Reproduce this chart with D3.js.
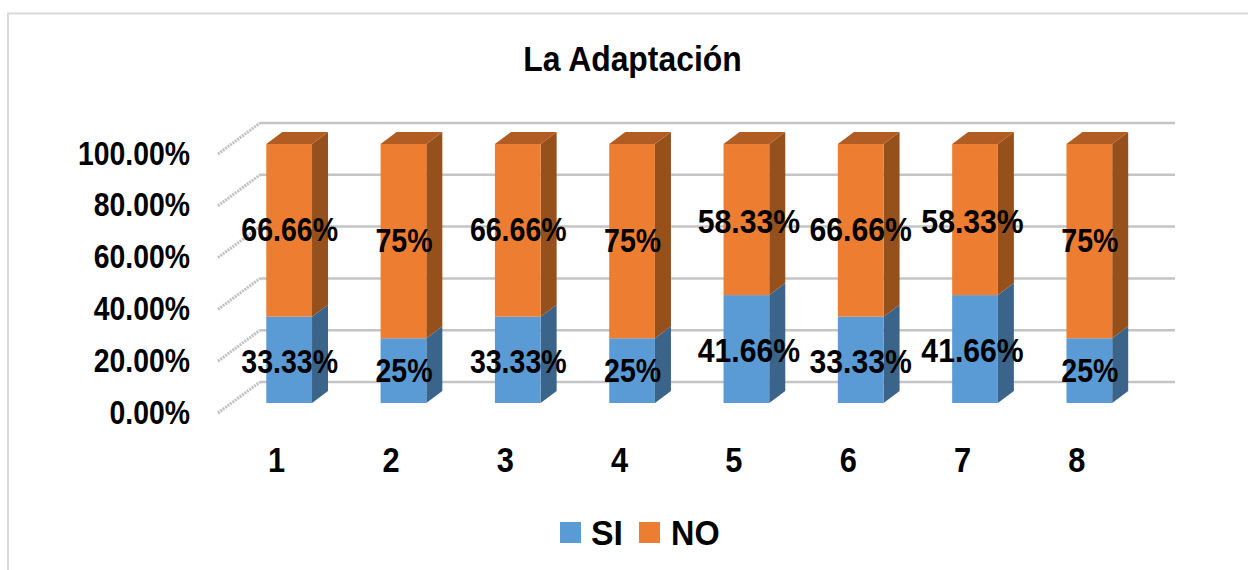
<!DOCTYPE html>
<html><head><meta charset="utf-8">
<script src="https://cdn.jsdelivr.net/npm/d3@7/dist/d3.min.js"></script>
<style>html,body{margin:0;background:#fff;overflow:hidden}svg{display:block}text{font-family:"Liberation Sans",Arial,sans-serif;font-weight:bold;fill:#000}</style>
</head><body><svg id="c" width="1248" height="570"></svg>
<script>
const categories=["1","2","3","4","5","6","7","8"];
const siValues=[33.33,25,33.33,25,41.66,33.33,41.66,25];
const noValues=[66.66,75,66.66,75,58.33,66.66,58.33,75];
const siLabels=["33.33%","25%","33.33%","25%","41.66%","33.33%","41.66%","25%"];
const noLabels=["66.66%","75%","66.66%","75%","58.33%","66.66%","58.33%","75%"];
const yTicks=[0,20,40,60,80,100];
const seriesNames=["SI","NO"];
const colors={SI:"#5b9bd5",NO:"#ed7d31"};
const sideColors={SI:"#3b648a",NO:"#96501c"};
const topColors={SI:"#4a7eae",NO:"#b05c22"};

const svg=d3.select("#c");
const y=d3.scaleLinear().domain([0,100]).range([403,144]);
const x=d3.scaleBand().domain(categories).range([232,1146.5]).paddingInner(0.6).paddingOuter(0.3);
const dx=16,dy=-12;
const wallDx=42,wallDy=-30, wallY0=412;
const wy=d3.scaleLinear().domain([0,100]).range([wallY0,153]);
function scaled(sel,px,py,sx){return sel.attr("transform",`translate(${px},${py}) scale(${sx},1)`);}

// hand-placed data labels in the original: horizontal shift per category, vertical shift per label text
const labelShiftX=[0,0,0,0,2,-0.5,-3,0];
const labelStretch=[0.865,0.865,0.865,0.865,0.915,0.915,0.915,0.865];
const labelShiftY={"33.33%":2,"25%":0,"41.66%":1,"66.66%":-1,"75%":-1,"58.33%":2};

// frame: open on the right, running off the bottom edge
svg.append("path").attr("d","M8,570V13.5H1248").attr("fill","none").attr("stroke","#d9d9d9").attr("stroke-width",2);

// wall gridlines
yTicks.forEach(t=>{
  const yy=wy(t);
  svg.append("line").attr("x1",218).attr("y1",yy+1).attr("x2",218+wallDx).attr("y2",yy+wallDy)
    .attr("stroke","#c0c0c0").attr("stroke-width",3).attr("stroke-dasharray","2 1");
  svg.append("line").attr("x1",218+wallDx).attr("y1",yy+wallDy).attr("x2",1175).attr("y2",yy+wallDy)
    .attr("stroke","#c4c4c4").attr("stroke-width",2.5);
});

// bars
categories.forEach((c,i)=>{
  const x0=x(c),w=x.bandwidth();
  const stack=[{n:"SI",a:0,b:siValues[i]},{n:"NO",a:siValues[i],b:siValues[i]+noValues[i]}];
  const g=svg.append("g");
  stack.forEach(s=>{
    const yA=y(s.a),yB=y(s.b);
    g.append("path").attr("d",`M${x0+w},${yA}L${x0+w+dx},${yA+dy}L${x0+w+dx},${yB+dy}L${x0+w},${yB}Z`).attr("fill",sideColors[s.n]);
    g.append("rect").attr("x",x0).attr("y",yB).attr("width",w).attr("height",yA-yB).attr("fill",colors[s.n]);
  });
  const yT=y(100);
  g.append("path").attr("d",`M${x0},${yT}L${x0+dx},${yT+dy}L${x0+w+dx},${yT+dy}L${x0+w},${yT}Z`).attr("fill",topColors.NO);
});

// y-axis labels
yTicks.forEach(t=>{
  scaled(svg.append("text").text(d3.format(".2f")(t)+"%").attr("text-anchor","end").attr("font-size",33),190,wy(t)+11.5,0.86);
});

// x-axis labels
categories.forEach(c=>{
  scaled(svg.append("text").text(c).attr("text-anchor","middle").attr("font-size",35),x(c)+x.bandwidth()/2-12.5,472,0.88);
});

// data labels
categories.forEach((c,i)=>{
  const cx=x(c)+x.bandwidth()/2+labelShiftX[i];
  const put=(label,a,b)=>scaled(svg.append("text").text(label).attr("text-anchor","middle").attr("font-size",33),cx+.5,(y(a)+y(b))/2+11.5+labelShiftY[label],labelStretch[i]);
  put(siLabels[i],0,siValues[i]);
  put(noLabels[i],siValues[i],siValues[i]+noValues[i]);
});

// title
scaled(svg.append("text").text("La Adaptación").attr("text-anchor","middle").attr("font-size",36),632.5,71,0.886);

// legend
const lx=[560,639],tx=[591,671],ls=[0.94,0.9];
seriesNames.forEach((n,i)=>{
  svg.append("rect").attr("x",lx[i]).attr("y",522).attr("width",21).attr("height",21).attr("fill",colors[n]);
  scaled(svg.append("text").text(n).attr("font-size",36),tx[i],545,ls[i]);
});
</script></body></html>
